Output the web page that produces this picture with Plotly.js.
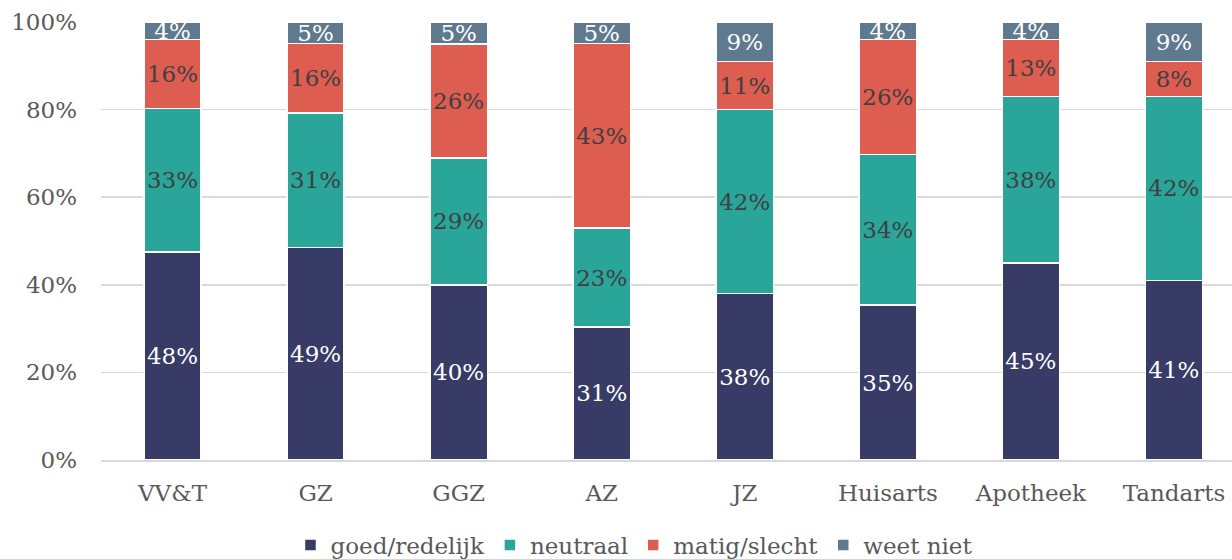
<!DOCTYPE html>
<html>
<head>
<meta charset="utf-8">
<script src="https://cdn.plot.ly/plotly-3.0.1.min.js"></script>
<style>html,body{margin:0;padding:0;background:#fff;}#chart{width:1232px;height:559px;}</style>
</head>
<body>
<div id="chart"></div>
<script>
var categories = ["VV&T", "GZ", "GGZ", "AZ", "JZ", "Huisarts", "Apotheek", "Tandarts"];
var goedRedelijk = [48, 49, 40, 31, 38, 35, 45, 41];
var neutraal = [33, 31, 29, 23, 42, 34, 38, 42];
var matigSlecht = [16, 16, 26, 43, 11, 26, 13, 8];
var weetNiet = [4, 5, 5, 5, 9, 4, 4, 9];
var yTickVals = [0, 20, 40, 60, 80, 100];
var yTickText = ["0%", "20%", "40%", "60%", "80%", "100%"];

var FONT = "DejaVu Serif, Merriweather, serif";
function series(name, vals, color, textColor) {
  return {
    type: "bar",
    name: name,
    x: categories,
    y: vals,
    marker: {color: color, line: {color: "#ffffff", width: 1.5}},
    text: vals.map(function (v) { return v + "%"; }),
    textposition: "inside",
    insidetextanchor: "middle",
    constraintext: "none",
    textangle: 0,
    textfont: {family: FONT, size: 23, color: textColor},
    hoverinfo: "skip",
    width: 0.4
  };
}
var data = [
  series("goed/redelijk", goedRedelijk, "#383B66", "#ffffff"),
  series("neutraal", neutraal, "#2AA59A", "#404040"),
  series("matig/slecht", matigSlecht, "#DD5D50", "#404040"),
  series("weet niet", weetNiet, "#5F7A8E", "#ffffff")
];
var layout = {
  width: 1232, height: 559,
  margin: {l: 101, r: 0, t: 22, b: 99},
  barmode: "stack",
  barnorm: "percent",
  paper_bgcolor: "#ffffff",
  plot_bgcolor: "#ffffff",
  font: {family: FONT, color: "#595959", size: 23},
  xaxis: {
    range: [-0.5, 7.406],
    showgrid: false,
    showline: true, linecolor: "#d9d9d9", linewidth: 1.5,
    ticks: "", ticklabelstandoff: 12,
    tickfont: {family: FONT, size: 23, color: "#595959"}
  },
  yaxis: {
    range: [0, 100],
    tickvals: yTickVals, ticktext: yTickText,
    showgrid: true, gridcolor: "#d9d9d9", gridwidth: 1.5,
    zeroline: false, showline: false,
    ticks: "", ticklabelstandoff: 23,
    tickfont: {family: FONT, size: 23, color: "#595959"}
  },
  legend: {
    orientation: "h",
    xref: "container", yref: "container",
    x: 0.515, xanchor: "center",
    y: 0.025, yanchor: "middle",
    font: {family: FONT, size: 23, color: "#595959"},
    traceorder: "normal",
    itemwidth: 30
  },
  showlegend: true
};
Plotly.newPlot("chart", data, layout, {displayModeBar: false, staticPlot: true});
</script>
</body>
</html>
